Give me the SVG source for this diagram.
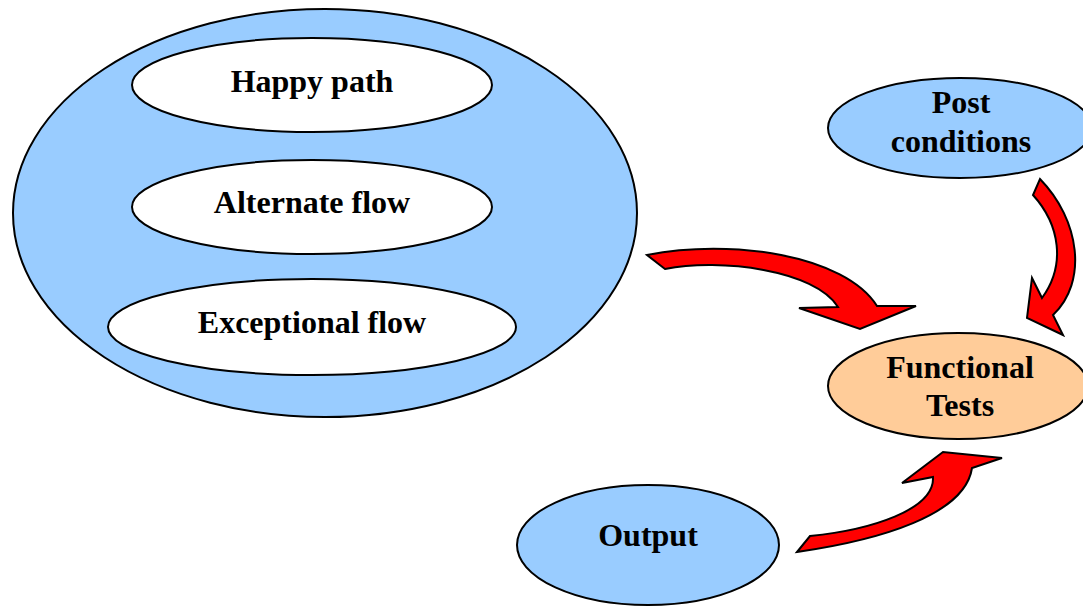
<svg xmlns="http://www.w3.org/2000/svg" width="1083" height="609" viewBox="0 0 1083 609">
  <style>
    .blue { fill: #99CCFF; stroke: #000; stroke-width: 2; }
    .white { fill: #FFFFFF; stroke: #000; stroke-width: 2; }
    .peach { fill: #FFCC99; stroke: #000; stroke-width: 2; }
    .arrow { fill: #FF0000; stroke: #000; stroke-width: 2; stroke-linejoin: miter; }
    text { font-family: "Liberation Serif", "Times New Roman", serif; font-weight: bold; font-size: 32px; fill: #000; text-anchor: middle; }
  </style>
  <rect width="1083" height="609" fill="#FFFFFF"/>

  <g id="use-case">
    <ellipse class="blue" cx="325" cy="213" rx="312" ry="204"/>
  </g>
  <g id="happy-path">
    <ellipse class="white" cx="312" cy="85" rx="180" ry="47"/>
    <text x="312" y="92">Happy path</text>
  </g>
  <g id="alternate-flow">
    <ellipse class="white" cx="312" cy="207" rx="180" ry="47"/>
    <text x="312" y="213">Alternate flow</text>
  </g>
  <g id="exceptional-flow">
    <ellipse class="white" cx="312" cy="327" rx="204" ry="48"/>
    <text x="312" y="333">Exceptional flow</text>
  </g>
  <g id="post-conditions">
    <ellipse class="blue" cx="960" cy="128" rx="132" ry="50"/>
    <text x="961" y="113">Post</text>
    <text x="961" y="152">conditions</text>
  </g>
  <g id="functional-tests">
    <ellipse class="peach" cx="958" cy="386" rx="130" ry="53"/>
    <text x="960" y="378">Functional</text>
    <text x="960" y="416">Tests</text>
  </g>
  <g id="output">
    <ellipse class="blue" cx="648" cy="545" rx="131" ry="60"/>
    <text x="648" y="546">Output</text>
  </g>

  <g id="connectors">
    <path class="arrow" d="M 647,255 C 730,238 845,255 877,306 L 916,306 L 860,329 L 799,308 L 838,307 C 815,270 720,258 665,269 Z"/>
    <path class="arrow" d="M 1040,179 C 1080,220 1088,282 1053,315 L 1063,335 L 1027,318 L 1032,278 L 1042,298 C 1066,265 1060,225 1033,195 Z"/>
    <path class="arrow" d="M 797,552 C 880,540 965,515 972,468 L 1002,458 L 943,452 L 902,483 L 933,477 C 935,510 870,530 810,536 Z"/>
  </g>
</svg>
